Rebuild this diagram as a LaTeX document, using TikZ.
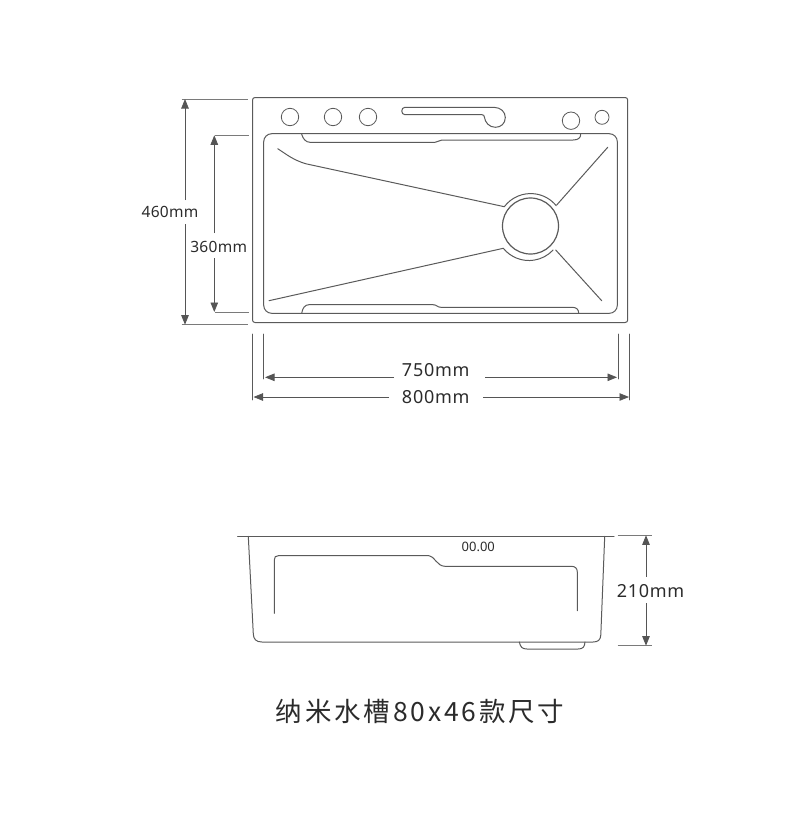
\documentclass[tikz,border=0pt]{standalone}
\usepackage{fontspec}
\setmainfont{Noto Sans}
\newfontfamily\cjk[LetterSpace=10.5]{Noto Sans CJK SC}
\newfontfamily\dimfont[LetterSpace=4]{Noto Sans}
\newfontfamily\smalldimfont[LetterSpace=2]{Noto Sans}
\usetikzlibrary{arrows.meta}
\definecolor{ink}{HTML}{5A5A5A}
\definecolor{dimgray}{HTML}{555555}
\definecolor{extgray}{HTML}{7A7A7A}
\definecolor{txt}{HTML}{2B2B2B}
\tikzset{
  part/.style={draw=ink,line width=1pt,line cap=round,line join=round},
  thin part/.style={draw=ink,line width=.8pt,line cap=round},
  dimline/.style={draw=dimgray,line width=.8pt,-{Triangle[length=9.5pt,width=7.5pt]}},
  extline/.style={draw=extgray,line width=1pt},
  dimlabel/.style={text=txt,inner sep=0pt,font=\smalldimfont\fontsize{15.5}{15.5}\selectfont},
  biglabel/.style={text=txt,inner sep=0pt,font=\dimfont\fontsize{18}{18}\selectfont},
}
\begin{document}
\begin{tikzpicture}[x=1pt,y=-1pt]
\useasboundingbox (0,0) rectangle (790,830);
% plan view
\draw[part,rounded corners=2.5pt] (252.5,97.5) rectangle (627.7,322.5);
\draw[part,rounded corners=8pt] (263.7,133.7) rectangle (617.3,313.3);
\draw[thin part] (290,117) circle[radius=8.7];
\draw[thin part] (333,117) circle[radius=8.7];
\draw[thin part] (368,117) circle[radius=8.7];
\draw[thin part] (571,120.7) circle[radius=8.7];
\draw[thin part] (602,117.3) circle[radius=7];
% faucet slot
\draw[part] (405,107.3) -- (494,107.3)
  .. controls (501,107.5) and (505.3,112) .. (505.3,117.5)
  .. controls (505.3,123.5) and (501,127.3) .. (495.3,127.3)
  .. controls (489,127.3) and (485,122) .. (484.5,117.5)
  .. controls (484.3,115.5) and (483.5,114.7) .. (482,114.7)
  -- (405,114.7) .. controls (400.7,114.7) and (400.7,107.3) .. (405,107.3);
% ledges
\draw[part] (301.7,134.3) .. controls (303,139) and (306,142.3) .. (310,142.3)
  -- (435,142.3) .. controls (438,142.3) and (439,140) .. (442,140)
  -- (573,140) .. controls (578,140) and (580.7,138) .. (580.7,134.3);
\draw[part] (301.7,313.3) .. controls (302.5,308) and (305,304.7) .. (309,304.7)
  -- (433,304.7) .. controls (437,304.7) and (437,307.3) .. (441,307.3)
  -- (572,307.3) .. controls (576,307.3) and (578.7,309) .. (578.7,313.3);
% basin ridges and drain
\coordinate (ra) at (504.3,206.7);
\coordinate (rb) at (556.7,205);
\coordinate (rc) at (503.3,248.3);
\coordinate (rd) at (555.7,250);
\draw[part] (277.7,148.7) .. controls (286,154) and (293,160) .. (306,163.8) -- (ra);
\draw[part] (269,300.7) -- (rc);
\draw[part] (607.7,147.3) -- (rb);
\draw[part] (601.7,300.7) -- (rd);
\draw[part] (ra) arc[start angle=217,end angle=321,radius=33];
\draw[part] (rc) arc[start angle=141,end angle=43,radius=33];
\draw[draw=ink,line width=1.2pt] (530.5,226) circle[radius=28];
% height dimensions
\draw[extline] (181.7,99) -- (248.3,99);
\draw[extline] (181.7,324.7) -- (248.3,324.7);
\draw[extline] (215,135.3) -- (249.3,135.3);
\draw[extline] (215,312) -- (249.3,312);
\coordinate (h460t) at (185,99);
\coordinate (h460b) at (185,324.7);
\coordinate (h460u) at (185,200);
\coordinate (h460l) at (185,224);
\draw[dimline] (h460u) -- (h460t);
\draw[dimline] (h460l) -- (h460b);
\node[dimlabel] (l460) at (170,212) {460mm};
\coordinate (h360t) at (214.3,135.3);
\coordinate (h360b) at (214.3,312);
\coordinate (h360u) at (214.3,233);
\coordinate (h360l) at (214.3,258);
\draw[dimline] (h360u) -- (h360t);
\draw[dimline] (h360l) -- (h360b);
\node[dimlabel] (l360) at (218.7,246.7) {360mm};
% width dimensions
\draw[thin part] (252.7,334) -- (252.7,400);
\draw[thin part] (263.3,334) -- (263.3,379);
\draw[thin part] (618.3,334) -- (618.3,379);
\draw[thin part] (629.3,334) -- (629.3,400);
\coordinate (w750l) at (265,377.3);
\coordinate (w750r) at (617,377.3);
\coordinate (w750a) at (394,377.3);
\coordinate (w750b) at (485,377.3);
\draw[dimline] (w750a) -- (w750l);
\draw[dimline] (w750b) -- (w750r);
\node[biglabel] (l750) at (435.7,370) {750mm};
\coordinate (w800l) at (253.5,397);
\coordinate (w800r) at (629,397);
\coordinate (w800a) at (389,397);
\coordinate (w800b) at (483,397);
\draw[dimline] (w800a) -- (w800l);
\draw[dimline] (w800b) -- (w800r);
\node[biglabel] (l800) at (435.7,397) {800mm};
% side view
\draw[part] (237.7,536.3) -- (614,536.3);
\draw[part] (248.3,536.3) -- (253.3,634) .. controls (253.5,639) and (256,642) .. (262,642)
  -- (593,642) .. controls (598,642) and (600.5,640) .. (600.8,635) -- (604.7,536.3);
\draw[part] (274.3,613.3) -- (274.3,560) .. controls (274.3,557) and (275.5,555.7) .. (278.3,555.7)
  -- (429,555.7) .. controls (434,555.7) and (437,566.3) .. (445,566.3)
  -- (571,566.3) .. controls (575,566.3) and (577.3,568) .. (577.3,572) -- (577.3,610.7);
\draw[part] (519.3,642) .. controls (520.5,647) and (522,649) .. (527,649)
  -- (578,649) .. controls (583,649) and (584.5,647) .. (585,642);
\node[text=txt,inner sep=0pt,font=\fontsize{13}{13}\selectfont] (lcode) at (478.3,547.3) {00.00};
% depth dimension
\draw[extline] (617.7,535.3) -- (652,535.3);
\draw[extline] (617.7,645.7) -- (652,645.7);
\coordinate (d210t) at (646,535.3);
\coordinate (d210b) at (646,645.7);
\coordinate (d210u) at (646,576.7);
\coordinate (d210l) at (646,603);
\draw[dimline] (d210u) -- (d210t);
\draw[dimline] (d210l) -- (d210b);
\node[biglabel] (l210) at (650.5,590.7) {210mm};
% title
\node[text=txt,inner sep=0pt,font=\cjk\fontsize{26.5}{26.5}\selectfont] (title) at (420,711) {纳米水槽80x46款尺寸};
\end{tikzpicture}
\end{document}
